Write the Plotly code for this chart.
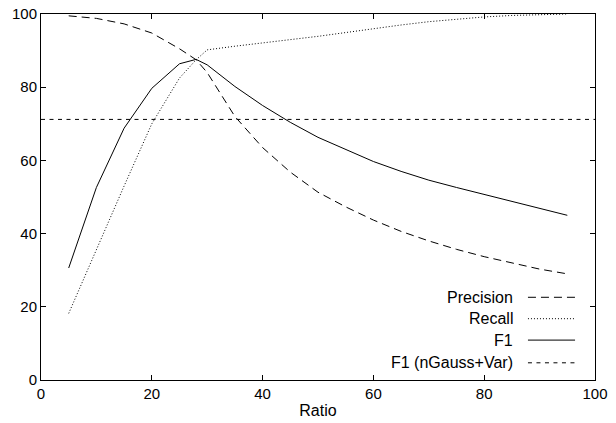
import plotly.graph_objects as go

ratio = [5, 10, 15, 20, 25, 28, 30, 35, 40, 45, 50, 55, 60, 65, 70, 75, 80, 85, 90, 95]
precision = [99.5, 98.8, 97.3, 94.8, 90.5, 87.5, 84.0, 72.0, 63.5, 56.8, 51.3, 47.3, 43.7, 40.6, 38.0, 35.7, 33.7, 31.9, 30.3, 29.0]
recall = [18.2, 35.8, 53.0, 70.0, 82.5, 87.5, 90.2, 91.2, 92.2, 93.0, 93.9, 95.0, 96.0, 97.0, 97.9, 98.6, 99.2, 99.6, 99.9, 100.0]
f1 = [30.6, 52.6, 68.8, 79.7, 86.4, 87.6, 86.1, 80.2, 75.0, 70.4, 66.3, 62.9, 59.7, 57.0, 54.6, 52.6, 50.7, 48.8, 46.9, 45.0]
f1_ngauss_var = 71.2

x_range = [0, 100]
y_range = [0, 100]
x_ticks = [0, 20, 40, 60, 80, 100]
y_ticks = [0, 20, 40, 60, 80, 100]

names = ["Precision", "Recall", "F1", "F1 (nGauss+Var)"]
dashes = ["8px,5px", "1px,2px", "solid", "4px,4.5px"]

fig = go.Figure()
fig.add_trace(go.Scatter(x=ratio, y=precision, mode="lines", name=names[0],
                         line=dict(color="black", width=1, dash=dashes[0])))
fig.add_trace(go.Scatter(x=ratio, y=recall, mode="lines", name=names[1],
                         line=dict(color="black", width=1, dash=dashes[1])))
fig.add_trace(go.Scatter(x=ratio, y=f1, mode="lines", name=names[2],
                         line=dict(color="black", width=1, dash=dashes[2])))
fig.add_trace(go.Scatter(x=x_range, y=[f1_ngauss_var, f1_ngauss_var], mode="lines", name=names[3],
                         line=dict(color="black", width=1, dash=dashes[3])))

# gnuplot-style legend: right-aligned text with line sample to the right
leg_text_x = 0.852
leg_line_x0 = 0.879
leg_line_x1 = 0.964
leg_ys = [0.226, 0.1675, 0.109, 0.047]
for nm, ds, yy in zip(names, dashes, leg_ys):
    fig.add_annotation(x=leg_text_x, y=yy, xref="paper", yref="paper", text=nm,
                       showarrow=False, xanchor="right", yanchor="middle",
                       xshift=2, font=dict(size=16, color="black"))
    fig.add_shape(type="line", xref="paper", yref="paper",
                  x0=leg_line_x0, x1=leg_line_x1, y0=yy, y1=yy,
                  line=dict(color="black", width=1, dash=ds))

fig.update_layout(
    width=616, height=423,
    margin=dict(l=41, r=21, t=14, b=43),
    paper_bgcolor="white", plot_bgcolor="white",
    showlegend=False,
    font=dict(family="Liberation Sans, Arial, sans-serif", size=15, color="black"),
)
fig.update_xaxes(range=x_range, tickvals=x_ticks, showgrid=False, zeroline=False,
                 showline=True, linecolor="black", linewidth=1, mirror="ticks",
                 ticks="inside", ticklen=5, tickcolor="black", automargin=False,
                 tickfont=dict(size=15),
                 title=dict(text="Ratio", standoff=3, font=dict(size=16)))
fig.update_yaxes(range=y_range, tickvals=y_ticks, showgrid=False, zeroline=False,
                 showline=True, linecolor="black", linewidth=1, mirror="ticks",
                 ticks="inside", ticklen=5, tickcolor="black", automargin=False,
                 tickfont=dict(size=15))

fig.write_html("out.html", config={"displayModeBar": False},
               post_script="document.body.style.margin='0';document.body.style.overflow='hidden';")
